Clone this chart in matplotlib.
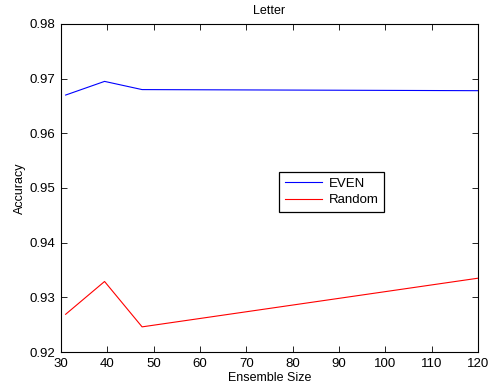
import matplotlib
matplotlib.use('Agg')
import matplotlib.pyplot as plt

plt.rcParams['font.family'] = ['Liberation Sans', 'DejaVu Sans']

# Ensemble sizes and accuracies
ensemble_size = [31, 39.4, 47.5, 120]
even_acc = [0.9670, 0.9695, 0.9680, 0.9678]
random_acc = [0.9269, 0.9329, 0.9246, 0.9335]

fig = plt.figure(figsize=(4.92, 3.90), dpi=100)
ax = fig.add_axes([0.124, 0.0974, 0.8475, 0.8411])

ax.plot(ensemble_size, even_acc, color='blue', linewidth=0.8, label='EVEN')
ax.plot(ensemble_size, random_acc, color='red', linewidth=0.8, label='Random')

ax.set_xlim(30, 120)
ax.set_ylim(0.92, 0.98)
ax.set_xticks(range(30, 121, 10))
ax.set_yticks([0.92, 0.93, 0.94, 0.95, 0.96, 0.97, 0.98])
ax.tick_params(direction='in', top=True, right=True, labelsize=9.5, length=4, width=0.6, pad=4)
for s in ax.spines.values():
    s.set_linewidth(0.8)

ax.set_title('Letter', fontsize=9, pad=7)
ax.set_xlabel('Ensemble Size', fontsize=9, labelpad=2)
ax.set_ylabel('Accuracy', fontsize=9, labelpad=3)

leg = ax.legend(loc='upper left', bbox_to_anchor=(0.523, 0.549), fontsize=9.5,
                fancybox=False, framealpha=1, edgecolor='black',
                handlelength=2.8, borderpad=0.45, labelspacing=0.3,
                handletextpad=0.5, borderaxespad=0)
leg.get_frame().set_linewidth(0.9)

fig.savefig('out.png', dpi=100)
